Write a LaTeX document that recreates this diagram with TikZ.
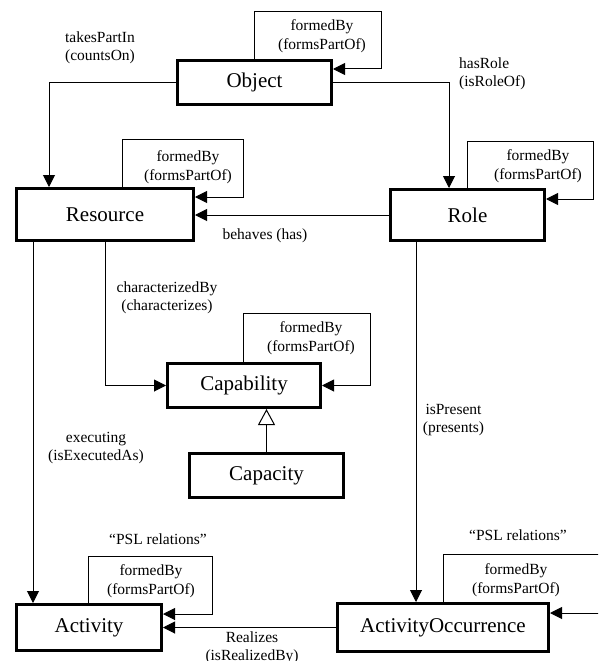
\documentclass[tikz,border=0pt]{standalone}
\usepackage{fontspec}
\setmainfont{Liberation Serif}
\usetikzlibrary{arrows.meta,calc}
\tikzset{
  box/.style={draw, line width=3pt, inner sep=0pt, font=\fontsize{21pt}{25pt}\selectfont},
  lbl/.style={inner sep=0pt, align=center, font=\fontsize{15.5pt}{18.5pt}\selectfont},
  conn/.style={line width=1pt, -{Triangle[length=12pt,width=12pt]}},
  gen/.style={line width=1pt, -{Triangle[open,length=16pt,width=17pt,fill=white]}}
}
\begin{document}
\begin{tikzpicture}[x=1pt,y=-1pt]
\useasboundingbox (0,0) rectangle (598,661);
\clip (0,0) rectangle (598,661);
% boxes
\node[box, minimum width=154pt, minimum height=44pt] (obj) at (254.5,82.5) {Object};
\node[box, minimum width=177pt, minimum height=52pt] (res) at (105,214.5) {Resource};
\node[box, minimum width=154pt, minimum height=51pt] (role) at (467.5,215) {Role};
\node[box, minimum width=153pt, minimum height=44pt] (cap) at (244,385.5) {Capability};
\node[box, minimum width=154pt, minimum height=44pt] (capy) at (266.5,475.5) {Capacity};
\node[box, minimum width=145pt, minimum height=46pt] (act) at (89,627.5) {Activity};
\node[box, minimum width=211pt, minimum height=48pt] (ao) at (443,627.5) {ActivityOccurrence};
% connectors
\draw[conn] (obj.west) -| ([xshift=-56pt]res.north);
\draw[conn] (obj.east) -| ([xshift=-18.5pt]role.north);
\draw[conn] (role.west) -- (role.west -| res.east);
\draw[conn] ([xshift=-72pt]res.south) -- ([xshift=-72pt]res.south |- act.north);
\draw[conn] (res.south) |- (cap.west);
\draw[gen] (capy.north) -- (capy.north |- cap.south);
\draw[conn] ([xshift=-51.5pt]role.south) -- ([xshift=-51.5pt]role.south |- ao.north);
\draw[conn] (ao.west) -- (ao.west -| act.east);
% self loops
\draw[conn] (obj.north) |- ++(126.5,-47) |- ([yshift=13.5pt]obj.east);
\draw[conn] ([xshift=17pt]res.north) |- ++(121,-48) |- ([yshift=17.5pt]res.east);
\draw[conn] (role.north) |- ++(125.5,-47) |- ([yshift=16pt]role.east);
\draw[conn] ([xshift=-1pt]cap.north) |- ++(127,-49) |- (cap.east);
\draw[conn] ([xshift=-1pt]act.north) |- ++(124,-47) |- ([yshift=13.5pt]act.east);
\draw[conn] (ao.north) |- ++(175,-48) |- ([yshift=14.5pt]ao.east);
% labels
\node[lbl] (l1) at (100,48) {takesPartIn\\(countsOn)};
\node[lbl, align=left, anchor=west] (l2) at (459,74) {hasRole\\(isRoleOf)};
\node[lbl] (l3) at (322,36) {formedBy\\(formsPartOf)};
\node[lbl] (l4) at (188,167) {formedBy\\(formsPartOf)};
\node[lbl] (l5) at (538,166) {formedBy\\(formsPartOf)};
\node[lbl] (l6) at (311,338) {formedBy\\(formsPartOf)};
\node[lbl] (l7) at (151,581) {formedBy\\(formsPartOf)};
\node[lbl] (l8) at (516,580) {formedBy\\(formsPartOf)};
\node[lbl] (l9) at (158,539) {``PSL relations''};
\node[lbl] (l10) at (518,535) {``PSL relations''};
\node[lbl] (l11) at (265,236) {behaves (has)};
\node[lbl] (l12) at (167,298) {characterizedBy\\(characterizes)};
\node[lbl] (l13) at (96,448) {executing\\(isExecutedAs)};
\node[lbl] (l14) at (453.5,420) {isPresent\\(presents)};
\node[lbl] (l15) at (252,648) {Realizes\\(isRealizedBy)};
\end{tikzpicture}
\end{document}
